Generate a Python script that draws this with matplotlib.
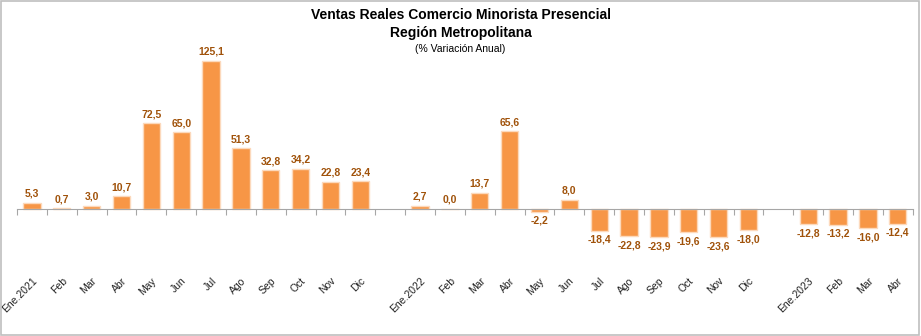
import matplotlib
matplotlib.use("Agg")
import matplotlib.pyplot as plt
from matplotlib.patches import Rectangle

months = ["Feb", "Mar", "Abr", "May", "Jun", "Jul", "Ago", "Sep", "Oct", "Nov", "Dic"]
labels_2021 = ["Ene.2021"] + months
labels_2022 = ["Ene.2022"] + months
labels_2023 = ["Ene.2023", "Feb", "Mar", "Abr"]
values_2021 = [5.3, 0.7, 3.0, 10.7, 72.5, 65.0, 125.1, 51.3, 32.8, 34.2, 22.8, 23.4]
values_2022 = [2.7, 0.0, 13.7, 65.6, -2.2, 8.0, -18.4, -22.8, -23.9, -19.6, -23.6, -18.0]
values_2023 = [-12.8, -13.2, -16.0, -12.4]

title_line1 = "Ventas Reales Comercio Minorista Presencial"
title_line2 = "Región Metropolitana"
subtitle = "(% Variación Anual)"

# Build slots with a blank gap between years
cats, vals = [], []
for i, (lab, v) in enumerate([(labels_2021, values_2021), (labels_2022, values_2022), (labels_2023, values_2023)]):
    if i > 0:
        cats.append("")
        vals.append(None)
    cats.extend(lab)
    vals.extend(v)

bar_color = "#F79646"
edge_color = "#FCD9BC"
label_color = "#A0520A"

plt.rcParams['font.family'] = ['Liberation Sans', 'DejaVu Sans']
fig = plt.figure(figsize=(9.21, 3.36), dpi=100)
ax = fig.add_axes([0.0185, 0.237, 0.9725, 0.616])

xs = [i for i, v in enumerate(vals) if v is not None]
ys = [v for v in vals if v is not None]
ax.bar(xs, ys, width=0.58, color=bar_color, edgecolor=edge_color, linewidth=1.0, zorder=2)

for x, y in zip(xs, ys):
    txt = f"{y:.1f}".replace(".", ",")
    if y >= 0:
        ax.annotate(txt, (x, y), xytext=(0, 3), textcoords="offset points",
                    ha="center", va="bottom", fontsize=7.5, fontweight="bold", color=label_color)
    else:
        ax.annotate(txt, (x, y), xytext=(0, -3), textcoords="offset points",
                    ha="center", va="top", fontsize=7.5, fontweight="bold", color=label_color)

n = len(cats)
ax.set_xlim(-0.5, n - 0.5)
ax.set_ylim(-40, 135)

for s in ["top", "right", "left"]:
    ax.spines[s].set_visible(False)
ax.spines["bottom"].set_position(("data", 0))
ax.spines["bottom"].set_color("#A6A6A6")
ax.set_yticks([])

ax.set_xticks(range(n))
ax.set_xticklabels(cats, rotation=45, ha="right", rotation_mode="anchor", fontsize=7.5, color="#222222")
ax.set_xticks([i - 0.5 for i in range(n + 1)], minor=True)
ax.tick_params(axis="x", which="major", length=0, pad=48)
ax.tick_params(axis="x", which="minor", length=4, color="#A6A6A6", width=0.8)

fig.text(0.5, 1 - 15 / 336, title_line1, ha="center", va="center", fontsize=10, fontweight="bold")
fig.text(0.5, 1 - 33 / 336, title_line2, ha="center", va="center", fontsize=10, fontweight="bold")
fig.text(0.5, 1 - 49 / 336, subtitle, ha="center", va="center", fontsize=7.5)

fig.patches.append(Rectangle((0.001, 0.002), 0.997, 0.995, transform=fig.transFigure,
                             fill=False, edgecolor="#BFBFBF", linewidth=1.2))

fig.savefig("out.png", dpi=100)
